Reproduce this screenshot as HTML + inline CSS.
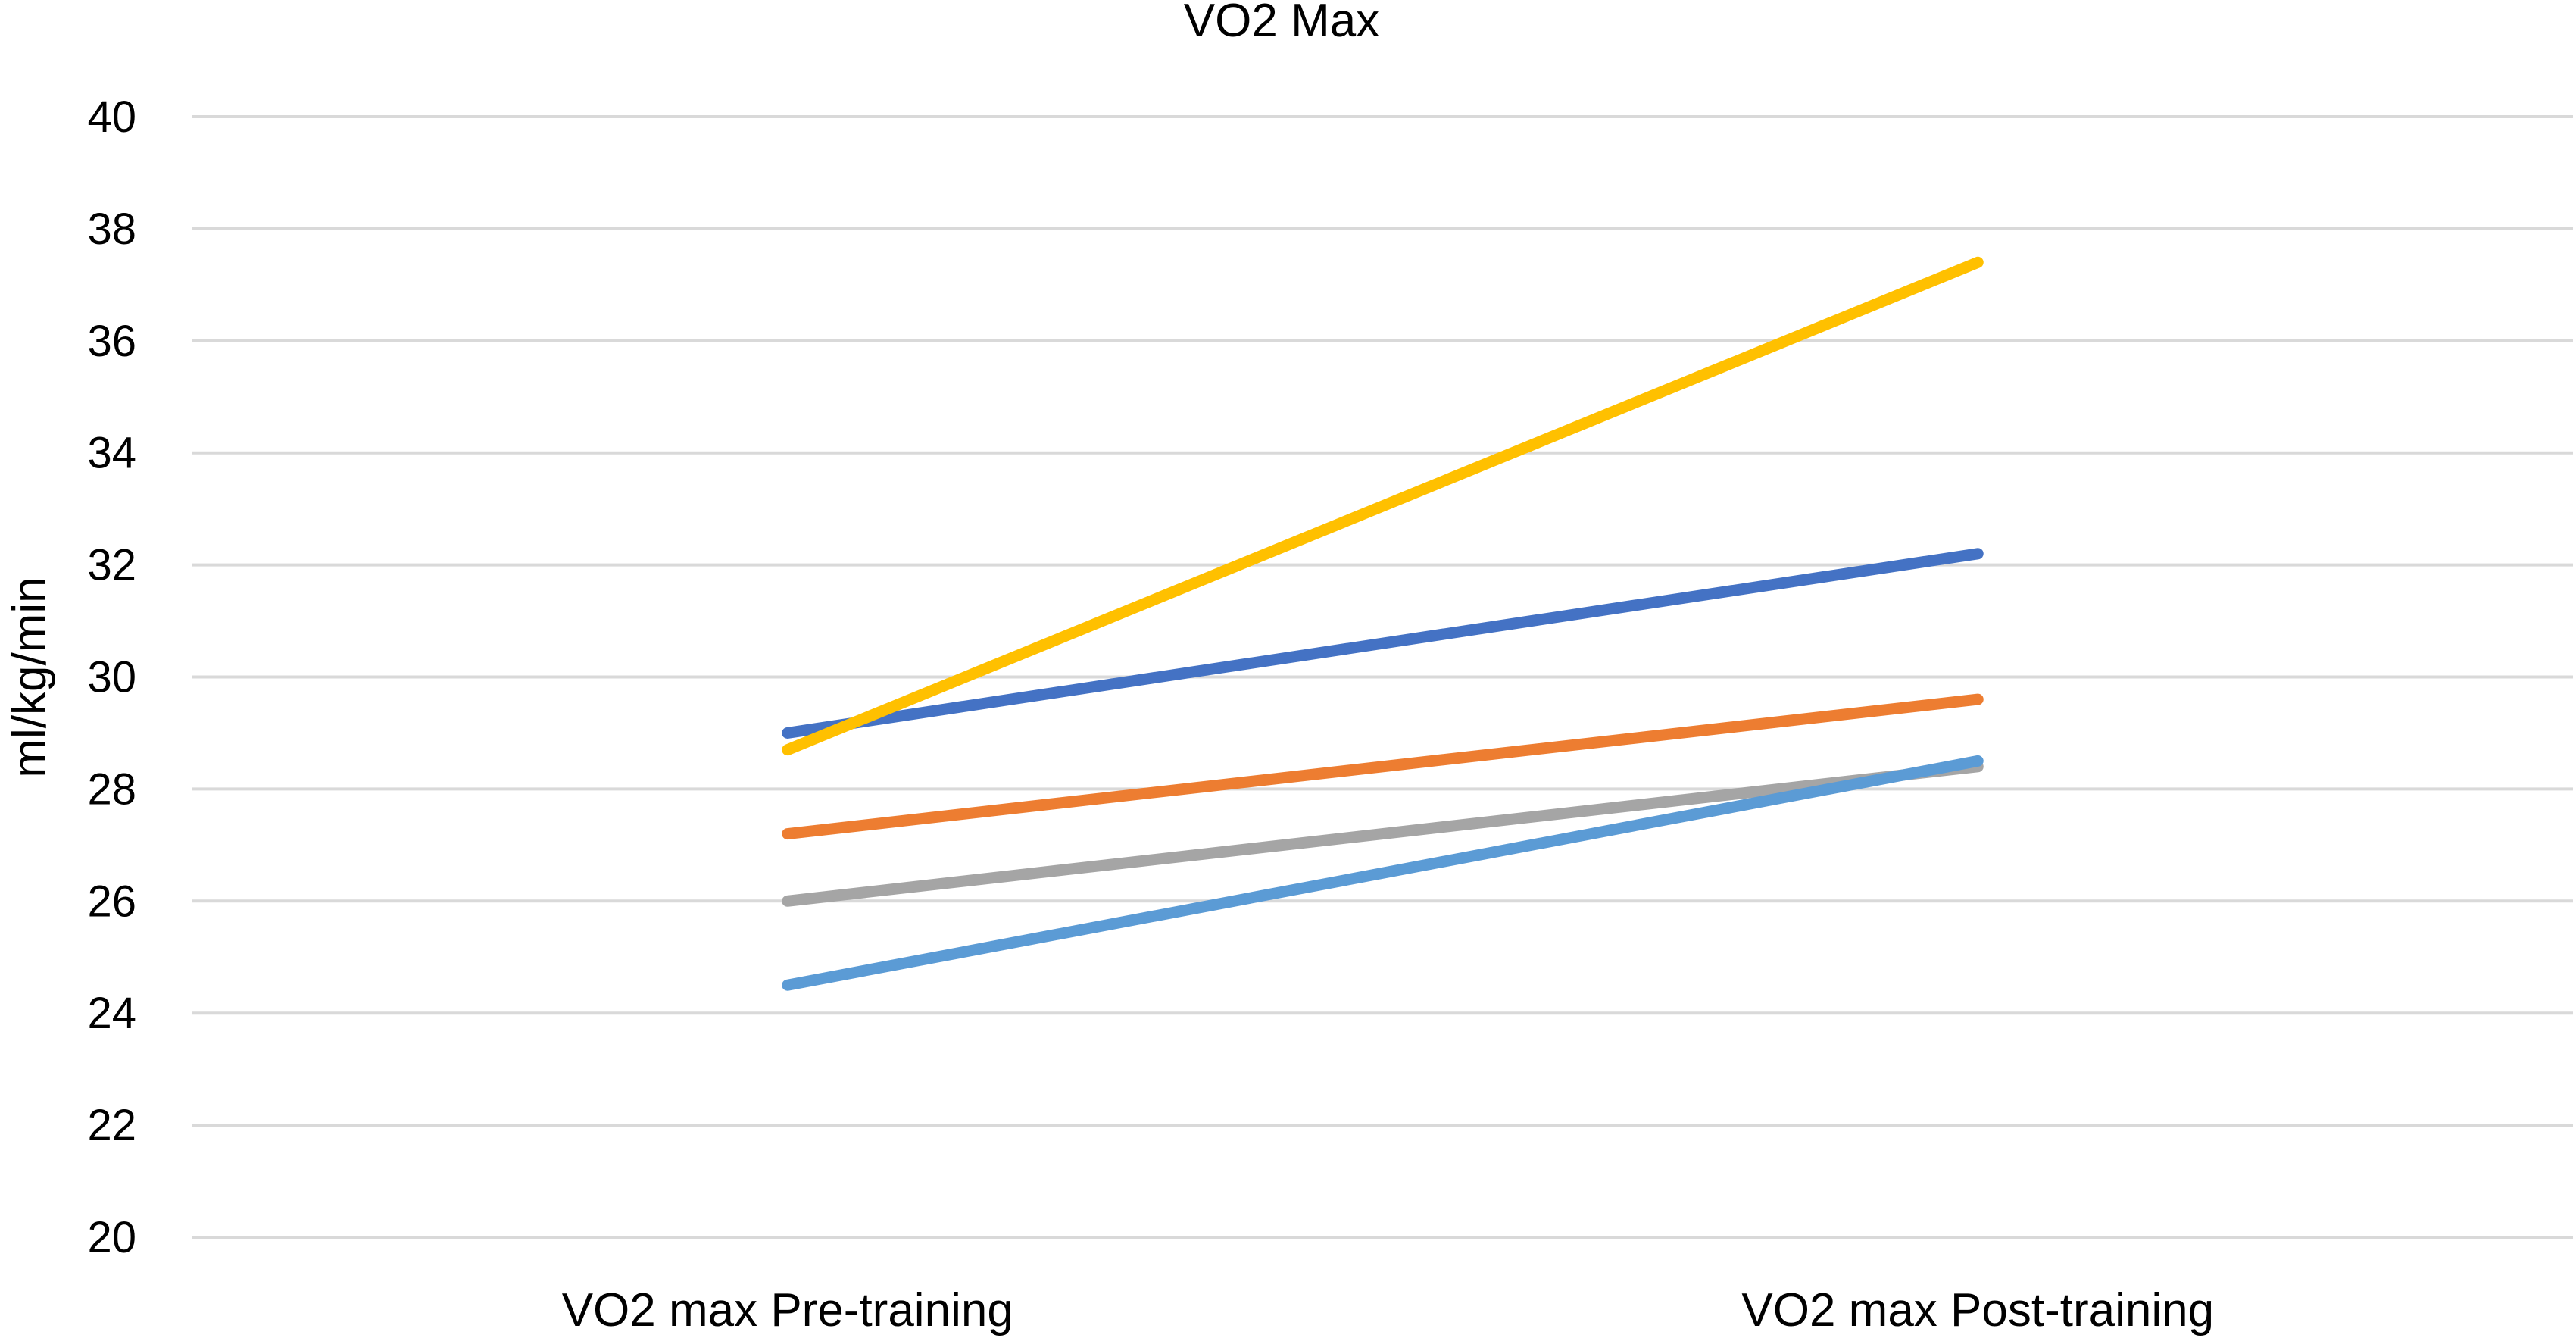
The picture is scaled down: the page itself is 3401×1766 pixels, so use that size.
<!DOCTYPE html>
<html><head><meta charset="utf-8"><style>
html,body{margin:0;padding:0;background:#fff;}
svg{display:block;font-family:"Liberation Sans",sans-serif;}
</style></head><body>
<svg id="chart" width="3401" height="1766" viewBox="0 0 3401 1766" xmlns="http://www.w3.org/2000/svg">
<rect width="3401" height="1766" fill="#fff"/>
<text x="1692" y="48" font-size="62" text-anchor="middle" fill="#000">VO2 Max</text>
<text transform="translate(60,894) rotate(-90)" font-size="62" text-anchor="middle" fill="#000">ml/kg/min</text>
<g id="grid"></g><g id="yticks"></g><g id="xlabels"></g><g id="series"></g>
</svg>
<script>
const categories = ["VO2 max Pre-training", "VO2 max Post-training"];
const yTicks = [20, 22, 24, 26, 28, 30, 32, 34, 36, 38, 40];
const seriesBlue = [29.0, 32.2];
const seriesOrange = [27.2, 29.6];
const seriesGray = [26.0, 28.4];
const seriesYellow = [28.7, 37.4];
const seriesLightBlue = [24.5, 28.5];
const seriesNames = ["series-1", "series-2", "series-3", "series-4", "series-5"];
const seriesColors = ["#4472C4", "#ED7D31", "#A5A5A5", "#FFC000", "#5B9BD5"];
const allSeries = [seriesBlue, seriesOrange, seriesGray, seriesYellow, seriesLightBlue];

const NS = "http://www.w3.org/2000/svg";
const plotL = 254, plotR = 3397, yTop = 154, yBot = 1633, yMin = 20, yMax = 40;
function yScale(v){ return yBot - (v - yMin) / (yMax - yMin) * (yBot - yTop); }
const band = (plotR - plotL) / categories.length;
function xScale(i){ return plotL + band * (i + 0.5); }

const grid = document.getElementById("grid");
const yt = document.getElementById("yticks");
yTicks.forEach(t => {
  const l = document.createElementNS(NS, "line");
  
  
  l.setAttribute("x1", plotL); l.setAttribute("x2", plotR);
  l.setAttribute("y1", yScale(t)); l.setAttribute("y2", yScale(t));
  l.setAttribute("stroke", "#D9D9D9"); l.setAttribute("stroke-width", "4");
  grid.appendChild(l);
  const tx = document.createElementNS(NS, "text");
  
  
  tx.setAttribute("x", 180); tx.setAttribute("y", yScale(t) + 20);
  tx.setAttribute("font-size", "58"); tx.setAttribute("text-anchor", "end");
  tx.textContent = t;
  yt.appendChild(tx);
});
const xl = document.getElementById("xlabels");
categories.forEach((c, i) => {
  const tx = document.createElementNS(NS, "text");
  
  
  tx.setAttribute("x", xScale(i)); tx.setAttribute("y", 1750);
  tx.setAttribute("font-size", "62"); tx.setAttribute("text-anchor", "middle");
  tx.textContent = c;
  xl.appendChild(tx);
});
const sg = document.getElementById("series");
allSeries.forEach((s, k) => {
  const p = document.createElementNS(NS, "polyline");
  
  
  p.setAttribute("points", s.map((v, i) => xScale(i) + "," + yScale(v)).join(" "));
  p.setAttribute("fill", "none"); p.setAttribute("stroke", seriesColors[k]);
  p.setAttribute("stroke-width", "15"); p.setAttribute("stroke-linecap", "round");
  sg.appendChild(p);
});
</script>
</body></html>
